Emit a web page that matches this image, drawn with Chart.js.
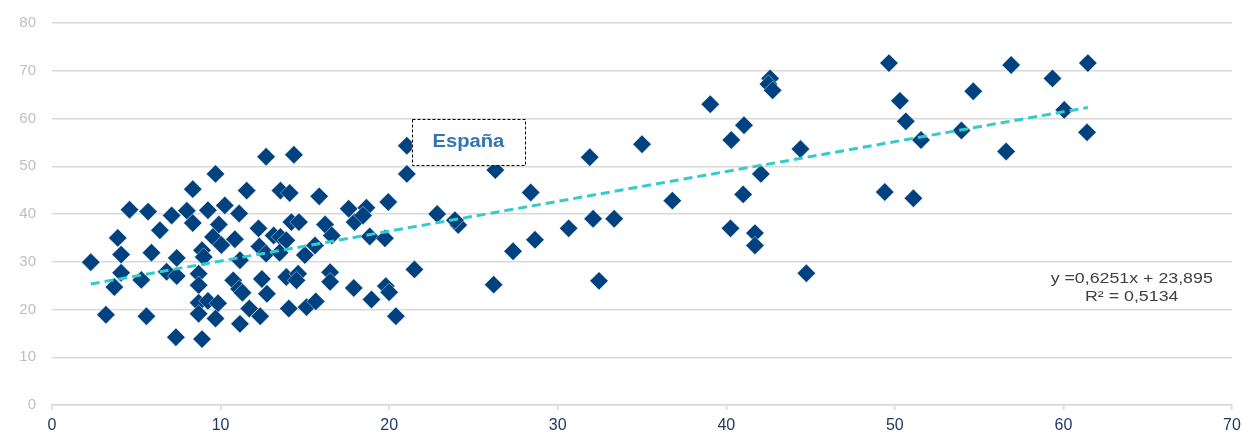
<!DOCTYPE html>
<html>
<head>
<meta charset="utf-8">
<script src="https://cdn.jsdelivr.net/npm/chart.js@4/dist/chart.umd.min.js"></script>
<style>
  html, body { margin: 0; padding: 0; background: #ffffff; }
  #wrap { width: 1243px; height: 433px; }
</style>
</head>
<body>
<div id="wrap"><canvas id="chart" width="1243" height="433"></canvas></div>
<script>
// Observations (x, y)
const xValues = [
  2.3, 3.2, 3.7, 3.9, 4.1, 4.1, 4.6, 5.3, 5.6, 5.7,
  5.9, 6.4, 6.8, 7.1, 7.4, 7.4, 7.35, 8.0, 8.35, 8.35,
  8.7, 8.7, 8.7, 8.7, 8.9, 8.9, 9.0, 9.25, 9.25, 9.7,
  9.55, 9.9, 10.05, 9.85, 9.7, 10.25, 10.85, 11.1, 11.15, 10.75,
  11.1, 11.3, 11.15, 11.55, 11.7, 12.25, 12.3, 12.45, 12.75, 12.35,
  12.7, 12.7, 14.35, 13.55, 14.1, 15.85, 17.6, 17.95, 14.2, 14.65,
  16.2, 16.6, 13.15, 13.55, 13.9, 13.5, 15.0, 15.6, 13.9, 14.6,
  14.5, 16.5, 16.5, 17.9, 14.05, 15.1, 15.65, 21.05, 21.05, 19.95,
  18.65, 18.45, 18.85, 19.75, 22.85, 21.5, 18.95, 19.8, 20.0, 20.4,
  26.3, 31.9, 35.0, 28.4, 24.1, 23.9, 32.1, 33.35, 30.65, 28.65,
  27.35, 26.2, 32.45, 42.6, 42.5, 42.75, 39.05, 41.05, 40.3, 44.4,
  42.05, 41.0, 36.8, 40.25, 41.7, 41.7, 44.75, 49.65, 50.3, 50.65,
  51.55, 49.4, 51.1, 54.65, 53.95, 56.6, 56.9, 59.35, 60.05, 61.45,
  61.4
];
const yValues = [
  29.9, 18.9, 24.7, 35.0, 31.5, 27.7, 40.9, 26.2, 18.6, 40.5,
  31.9, 36.6, 27.9, 39.7, 30.8, 27.0, 14.2, 40.7, 45.2, 38.1,
  27.5, 25.1, 21.4, 19.1, 13.8, 32.4, 31.0, 21.8, 40.8, 48.4,
  35.2, 37.8, 33.5, 21.3, 18.1, 41.8, 34.7, 40.1, 30.3, 26.1,
  24.3, 23.5, 17.0, 44.9, 20.2, 37.0, 33.2, 26.4, 23.3, 18.6,
  31.7, 52.0, 52.4, 44.9, 44.4, 43.7, 41.1, 38.3, 38.3, 38.3,
  37.8, 35.5, 35.5, 35.2, 34.5, 31.9, 31.4, 33.4, 26.8, 27.5,
  26.1, 27.8, 25.8, 24.5, 20.2, 20.5, 21.7, 54.3, 48.4, 42.5,
  41.3, 39.7, 35.3, 34.9, 40.0, 28.4, 22.1, 24.9, 23.6, 18.6,
  49.2, 51.9, 54.6, 44.5, 37.7, 38.7, 39.0, 39.0, 37.0, 34.6,
  32.2, 25.2, 26.0, 68.4, 67.2, 65.9, 63.0, 58.6, 55.5, 53.6,
  48.4, 44.1, 42.8, 37.0, 36.0, 33.4, 27.6, 71.6, 63.7, 59.4,
  55.5, 44.6, 43.3, 65.7, 57.5, 53.1, 71.2, 68.4, 61.8, 71.6,
  57.1
];

// Axis ticks
const xTicks = [0, 10, 20, 30, 40, 50, 60, 70];
const yTicks = [0, 10, 20, 30, 40, 50, 60, 70, 80];

// Linear trend (as printed on the chart)
const trendSlope = 0.6251;
const trendIntercept = 23.895;
const trendLabel = ['y =0,6251x + 23,895', 'R² = 0,5134'];
const calloutLabel = 'España';

const points = xValues.map((x, i) => ({ x: x, y: yValues[i] }));
const xMin = Math.min(...xValues);
const xMax = Math.max(...xValues);
const trendPoints = [xMin, xMax].map(x => ({ x: x, y: trendSlope * x + trendIntercept }));

const FONT = "'Liberation Sans', Arial, sans-serif";

// Draws the callout box and the regression equation
const annotationsPlugin = {
  id: 'annotations',
  afterDatasetsDraw(chart) {
    const ctx = chart.ctx;
    const xs = chart.scales.x, ys = chart.scales.y;

    // dashed callout box
    const bx1 = xs.getPixelForValue(21.35), bx2 = xs.getPixelForValue(28.05);
    const by1 = ys.getPixelForValue(59.8), by2 = ys.getPixelForValue(50.2);
    ctx.save();
    ctx.fillStyle = '#ffffff';
    ctx.fillRect(bx1, by1, bx2 - bx1, by2 - by1);
    ctx.strokeStyle = '#000000';
    ctx.lineWidth = 1;
    ctx.setLineDash([3, 2]);
    ctx.strokeRect(Math.round(bx1) + 0.5, Math.round(by1) + 0.5, Math.round(bx2 - bx1), Math.round(by2 - by1));
    ctx.setLineDash([]);
    ctx.fillStyle = '#2E75B6';
    ctx.font = 'bold 18px ' + FONT;
    ctx.textAlign = 'center';
    ctx.textBaseline = 'middle';
    ctx.save();
    ctx.translate((bx1 + bx2) / 2, (by1 + by2) / 2);
    ctx.scale(1.12, 1);
    ctx.fillText(calloutLabel, 0, 0);
    ctx.restore();

    // regression equation
    ctx.fillStyle = '#404040';
    ctx.font = '14px ' + FONT;
    const ex = xs.getPixelForValue(64.05);
    const ey1 = ys.getPixelForValue(26.4);
    const ey2 = ys.getPixelForValue(22.5);
    ctx.save();
    ctx.translate(ex, ey1);
    ctx.scale(1.27, 1);
    ctx.fillText(trendLabel[0], 0, 0);
    ctx.restore();
    ctx.save();
    ctx.translate(ex, ey2);
    ctx.scale(1.27, 1);
    ctx.fillText(trendLabel[1], 0, 0);
    ctx.restore();
    ctx.restore();
  }
};

new Chart(document.getElementById('chart'), {
  type: 'scatter',
  data: {
    datasets: [
      {
        type: 'line',
        data: trendPoints,
        borderColor: '#33CCCC',
        borderWidth: 3,
        borderDash: [9, 5],
        pointRadius: 0,
        fill: false,
        order: 0
      },
      {
        data: points,
        pointStyle: 'rectRot',
        pointRadius: 9.2,
        backgroundColor: '#00427F',
        borderColor: 'rgba(255,255,255,0.55)',
        borderWidth: 0.8,
        order: 1
      }
    ]
  },
  options: {
    responsive: false,
    animation: false,
    layout: { padding: { top: 23, right: 11, left: 0, bottom: 0 } },
    plugins: {
      legend: { display: false },
      tooltip: { enabled: false }
    },
    scales: {
      x: {
        type: 'linear',
        min: xTicks[0],
        max: xTicks[xTicks.length - 1],
        afterBuildTicks: s => { s.ticks = xTicks.map(v => ({ value: v })); },
        afterFit: s => { s.height = 28; s.paddingLeft = 0; s.paddingRight = 0; },
        grid: { drawOnChartArea: false, drawTicks: true, tickLength: 5, color: '#D9D9D9', lineWidth: 1.5 },
        border: { display: true, color: '#D9D9D9', width: 1.5 },
        ticks: {
          padding: 6,
          color: '#1F3864',
          font: { family: FONT, size: 16 },
          maxRotation: 0
        }
      },
      y: {
        type: 'linear',
        min: yTicks[0],
        max: yTicks[yTicks.length - 1],
        afterBuildTicks: s => { s.ticks = yTicks.map(v => ({ value: v })); },
        afterFit: s => { s.width = 52; s.paddingTop = 0; s.paddingBottom = 0; },
        grid: { drawTicks: false, color: '#D9D9D9', lineWidth: 1.5 },
        border: { display: false },
        ticks: {
          padding: 16,
          color: '#BFBFBF',
          font: { family: FONT, size: 15 }
        }
      }
    }
  },
  plugins: [annotationsPlugin]
});
</script>
</body>
</html>
